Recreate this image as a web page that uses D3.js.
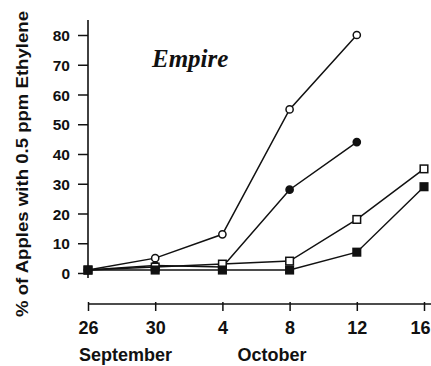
<!DOCTYPE html>
<html>
<head>
<meta charset="utf-8">
<script src="https://cdn.jsdelivr.net/npm/d3@7"></script>
<style>
  html, body { margin: 0; padding: 0; background: #fff; }
  svg text { font-family: "Liberation Sans", Arial, sans-serif; font-weight: bold; fill: #111; }
</style>
</head>
<body>
<div id="chart"></div>
<script>
// Sampling dates (day of month), September then October
const dates = ['26', '30', '4', '8', '12', '16'];
const monthLabels = ['September', 'October'];
const yTicks = [0, 10, 20, 30, 40, 50, 60, 70, 80];

// % of apples with 0.5 ppm ethylene, one array per treatment
const openCircle = [1, 5, 13, 55, 80, null];
const filledCircle = [1, 2.5, 2, 28, 44, null];
const openSquare = [1, 2, 3, 4, 18, 35];
const filledSquare = [1, 1, 1, 1, 7, 29];

const seriesList = [
  { name: 'openCircle', values: openCircle, shape: 'circle', fill: '#fff' },
  { name: 'filledCircle', values: filledCircle, shape: 'circle', fill: '#111' },
  { name: 'openSquare', values: openSquare, shape: 'square', fill: '#fff' },
  { name: 'filledSquare', values: filledSquare, shape: 'square', fill: '#111' },
];

const width = 431;
const height = 366;
const ink = '#111';

const svg = d3.select('#chart').append('svg')
  .attr('width', width)
  .attr('height', height);

const x = d3.scalePoint()
  .domain(dates)
  .range([88, 424]);

const y = d3.scaleLinear()
  .domain([0, 80])
  .range([273, 35]);

// Y axis
const yAxis = svg.append('g')
  .attr('transform', 'translate(88,0)')
  .call(d3.axisLeft(y).tickValues(yTicks).tickSize(10).tickPadding(8));
yAxis.select('.domain').remove();
yAxis.selectAll('line').attr('stroke', ink).attr('stroke-width', 1.5);
yAxis.selectAll('text').attr('font-size', 15.5).attr('font-family', null).attr('dy', '0.36em');

svg.append('line')
  .attr('x1', 88).attr('x2', 88)
  .attr('y1', 20).attr('y2', 278)
  .attr('stroke', ink).attr('stroke-width', 1.6);

// X axis (separate, below the plot)
const xAxisY = 304;
const xAxis = svg.append('g')
  .attr('transform', 'translate(0,' + xAxisY + ')')
  .call(d3.axisBottom(x).tickSize(7).tickPadding(10));
xAxis.select('.domain').remove();
xAxis.selectAll('.tick line').attr('y1', -2).attr('stroke', ink).attr('stroke-width', 1.5);
xAxis.selectAll('text').attr('font-size', 18).attr('font-family', null);
// last label sits against the right edge, as in the original
xAxis.selectAll('.tick')
  .filter(d => d === dates[dates.length - 1])
  .select('text')
  .attr('text-anchor', 'end')
  .attr('dx', 6);

svg.append('line')
  .attr('x1', 88).attr('x2', width)
  .attr('y1', xAxisY).attr('y2', xAxisY)
  .attr('stroke', ink).attr('stroke-width', 1.6);

// Month labels
svg.append('text')
  .attr('x', x(dates[0]) - 9)
  .attr('y', 361)
  .attr('font-size', 18)
  .text(monthLabels[0]);

svg.append('text')
  .attr('x', x(dates[2]) + 15)
  .attr('y', 361)
  .attr('font-size', 18)
  .text(monthLabels[1]);

// Y axis title
svg.append('text')
  .attr('transform', 'translate(28,164) rotate(-90)')
  .attr('text-anchor', 'middle')
  .attr('font-size', 17)
  .attr('textLength', 306)
  .attr('lengthAdjust', 'spacingAndGlyphs')
  .text('% of Apples with 0.5 ppm Ethylene');

// Cultivar label
svg.append('text')
  .attr('x', 152)
  .attr('y', 67)
  .style('font-family', '"Liberation Serif", "Times New Roman", serif')
  .style('font-style', 'italic')
  .style('font-weight', 'bold')
  .attr('font-size', 25)
  .text('Empire');

// Lines and markers
const line = d3.line()
  .x(d => x(d.date))
  .y(d => y(d.v));

seriesList.forEach(s => {
  const pts = dates.map((date, i) => ({ date, v: s.values[i] })).filter(d => d.v !== null);

  svg.append('path')
    .datum(pts)
    .attr('d', line)
    .attr('fill', 'none')
    .attr('stroke', ink)
    .attr('stroke-width', 1.5);

  const g = svg.append('g').attr('class', 'markers-' + s.name);
  if (s.shape === 'circle') {
    g.selectAll('circle')
      .data(pts)
      .enter()
      .append('circle')
      .attr('cx', d => x(d.date))
      .attr('cy', d => y(d.v))
      .attr('r', 3.6)
      .attr('fill', s.fill)
      .attr('stroke', ink)
      .attr('stroke-width', 1.5);
  } else {
    g.selectAll('rect')
      .data(pts)
      .enter()
      .append('rect')
      .attr('x', d => x(d.date) - 3.8)
      .attr('y', d => y(d.v) - 3.8)
      .attr('width', 7.6)
      .attr('height', 7.6)
      .attr('fill', s.fill)
      .attr('stroke', ink)
      .attr('stroke-width', 1.5);
  }
});
</script>
</body>
</html>
